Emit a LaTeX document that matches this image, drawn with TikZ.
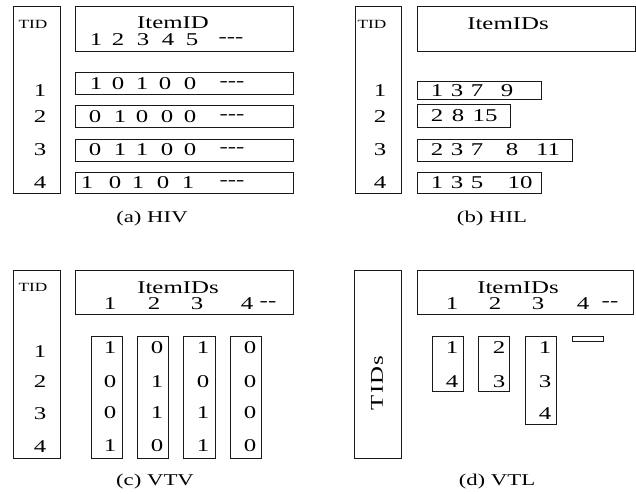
\documentclass[tikz,border=0pt]{standalone}
\usepackage{fontspec}
\setmainfont{Liberation Serif}[FakeStretch=1.38]
\begin{document}
\begin{tikzpicture}[x=1pt,y=-1pt,
  box/.style={draw=black!90, line width=0.8pt},
  txt/.style={inner sep=0pt, font=\fontsize{18}{18}\selectfont},
  small/.style={inner sep=0pt, font=\fontsize{12.5}{12.5}\selectfont},
  captext/.style={inner sep=0pt, anchor=base, font=\fontsize{16.5}{16.5}\selectfont},
  head/.style={inner sep=0pt, anchor=base, font=\fontsize{18}{18}\selectfont}]
\useasboundingbox (0,0) rectangle (636,493);

% ---------------- (a) HIV ----------------
\draw[box] (13,6) rectangle (60,193);
\draw[box] (75,6) rectangle (293,51);
\draw[box] (75,72) rectangle (293,94);
\draw[box] (75,105) rectangle (293,127);
\draw[box] (75,139) rectangle (293,161);
\draw[box] (75,172) rectangle (293,193);
\node[small] (a-tid) at (33,24) {TID};
\node[head] (a-item) at (173,28) {ItemID};
\foreach \x/\t [count=\i] in {96/1,118/2,143/3,168/4,192/5,231/{{-}{-}{-}}}
  \node[txt] (a-h\i) at (\x,40) {\t};
\foreach \y [count=\i] in {91,117,150,183}
  \node[txt] (a-l\i) at (40,\y) {\i};
\foreach \x/\t [count=\i] in {96/1,118/0,142/1,165/0,190/0,232/{{-}{-}{-}}}
  \node[txt] (a-r1-\i) at (\x,84) {\t};
\foreach \x/\t [count=\i] in {95/0,120/1,142/0,167/0,190/0,232/{{-}{-}{-}}}
  \node[txt] (a-r2-\i) at (\x,117) {\t};
\foreach \x/\t [count=\i] in {95/0,120/1,142/1,167/0,190/0,232/{{-}{-}{-}}}
  \node[txt] (a-r3-\i) at (\x,150) {\t};
\foreach \x/\t [count=\i] in {87/1,115/0,138/1,163/0,188/1,232/{{-}{-}{-}}}
  \node[txt] (a-r4-\i) at (\x,183) {\t};
\node[captext] (a-cap) at (152,222) {(a) HIV};

% ---------------- (b) HIL ----------------
\draw[box] (355,6) rectangle (401,193);
\draw[box] (417,6) rectangle (635,51);
\draw[box] (417,81) rectangle (541,99);
\draw[box] (417,104) rectangle (510,127);
\draw[box] (417,139) rectangle (572,161);
\draw[box] (417,172) rectangle (541,193);
\node[small] (b-tid) at (372,24) {TID};
\node[head] (b-item) at (508,29) {ItemIDs};
\foreach \y [count=\i] in {91,117,150,183}
  \node[txt] (b-l\i) at (380,\y) {\i};
\foreach \x/\t [count=\i] in {437/1,457/3,477/7,507/9}
  \node[txt] (b-r1-\i) at (\x,91) {\t};
\foreach \x/\t [count=\i] in {437/2,458/8,485/15}
  \node[txt] (b-r2-\i) at (\x,116) {\t};
\foreach \x/\t [count=\i] in {437/2,457/3,477/7,512/8,548/11}
  \node[txt] (b-r3-\i) at (\x,150) {\t};
\foreach \x/\t [count=\i] in {437/1,457/3,477/5,520/10}
  \node[txt] (b-r4-\i) at (\x,183) {\t};
\node[captext] (b-cap) at (492,222) {(b) HIL};

% ---------------- (c) VTV ----------------
\draw[box] (13,270) rectangle (60,458);
\draw[box] (75,270) rectangle (293,314);
\node[small] (c-tid) at (33,287) {TID};
\node[head] (c-item) at (178,293) {ItemIDs};
\foreach \x/\t [count=\i] in {110/1,154/2,197/3,247/4,268/{{-}{-}}}
  \node[txt] (c-h\i) at (\x,304) {\t};
\foreach \y [count=\i] in {352,382,414,447}
  \node[txt] (c-l\i) at (40,\y) {\i};
\foreach \xa/\xb in {91/122,137/168,183/215,230/261}
  \draw[box] (\xa,336) rectangle (\xb,458);
\foreach \x/\va/\vb/\vc/\vd [count=\i] in {110/1/0/0/1,157/0/1/1/0,203/1/0/1/1,250/0/0/0/0}{
  \node[txt] (c-\i-1) at (\x,348) {\va};
  \node[txt] (c-\i-2) at (\x,382) {\vb};
  \node[txt] (c-\i-3) at (\x,413) {\vc};
  \node[txt] (c-\i-4) at (\x,446) {\vd};
}
\node[captext] (c-cap) at (155,485) {(c) VTV};

% ---------------- (d) VTL ----------------
\draw[box] (354,270) rectangle (401,458);
\draw[box] (417,270) rectangle (633,314);
\node[txt, rotate=90] (d-tids) at (377,383) {T\kern1.5pt I\kern1.5pt D\kern1pt s};
\node[head] (d-item) at (518,293) {ItemIDs};
\foreach \x/\t [count=\i] in {452/1,495/2,538/3,583/4,610/{{-}{-}}}
  \node[txt] (d-h\i) at (\x,304) {\t};
\draw[box] (432,336) rectangle (463,391);
\draw[box] (478,336) rectangle (509,391);
\draw[box] (525,336) rectangle (556,424);
\draw[box] (572,336) rectangle (603,341);
\node[txt] (d-1-1) at (452,348) {1};
\node[txt] (d-1-2) at (452,382) {4};
\node[txt] (d-2-1) at (499,348) {2};
\node[txt] (d-2-2) at (499,382) {3};
\node[txt] (d-3-1) at (545,348) {1};
\node[txt] (d-3-2) at (545,382) {3};
\node[txt] (d-3-3) at (545,414) {4};
\node[captext] (d-cap) at (497,485) {(d) VTL};
\end{tikzpicture}
\end{document}
